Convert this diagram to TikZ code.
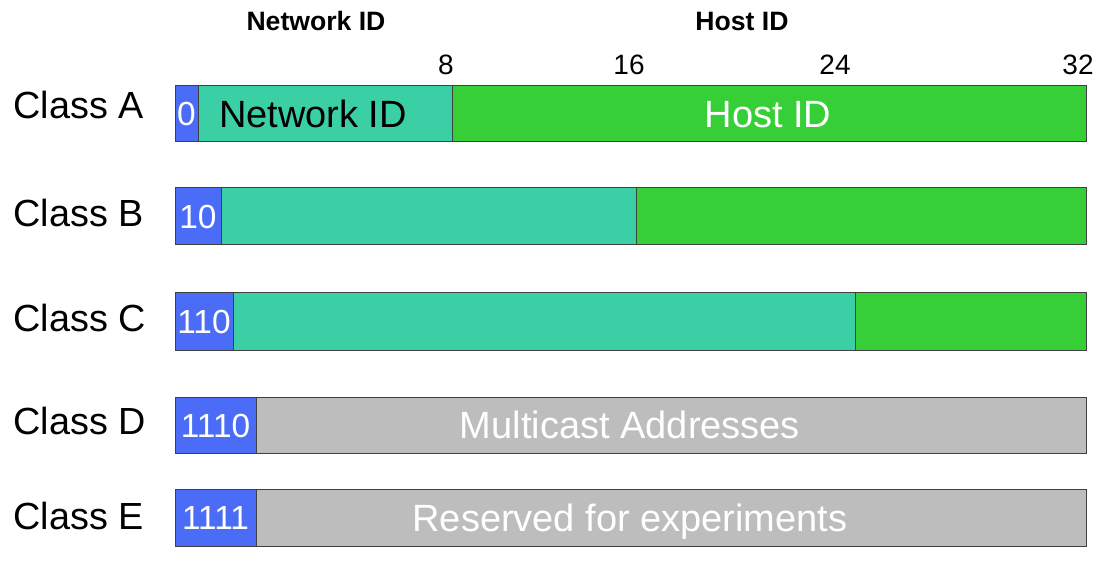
\documentclass[tikz,border=0pt]{standalone}
\usepackage{fontspec}
\setmainfont{Liberation Sans}
\definecolor{prefblue}{HTML}{4A6CF7}
\definecolor{netteal}{HTML}{3ACFA5}
\definecolor{hostgreen}{HTML}{37CF37}
\definecolor{resgray}{HTML}{BDBDBD}

\begin{document}
\begin{tikzpicture}[x=0.5pt, y=0.5pt,
  field/.style={draw=black!75, line width=0.5pt},
  lbl/.style={inner sep=0pt, text depth=0pt},
  classname/.style={lbl, anchor=west, text height=13.6pt, font=\fontsize{18.9}{21}\selectfont},
  headtxt/.style={lbl, text height=9.6pt, font=\fontsize{13.3}{15}\selectfont\bfseries},
  ticknum/.style={lbl, text height=10.1pt, font=\fontsize{14}{16}\selectfont},
  prefbits/.style={lbl, text=white, text height=12pt, font=\fontsize{16.7}{18}\selectfont},
  inside/.style={lbl, text height=13.7pt, font=\fontsize{19}{21}\selectfont}]
\useasboundingbox (0,0) rectangle (1103,563);

% class A, B, C
\foreach \top/\bot/\a/\b in {477/421/198/452, 375/318/221/636, 270/213/233/855}{
  \draw[field, fill=prefblue] (175,\bot) rectangle (\a,\top);
  \draw[field, fill=netteal] (\a,\bot) rectangle (\b,\top);
  \draw[field, fill=hostgreen] (\b,\bot) rectangle (1086,\top);
}
% class D, E
\foreach \top/\bot in {166/110, 74/17}{
  \draw[field, fill=prefblue] (175,\bot) rectangle (256,\top);
  \draw[field, fill=resgray] (256,\bot) rectangle (1086,\top);
}

\node[headtxt] (hnet) at (316,542) {Network ID};
\node[headtxt] (hhost) at (742,542) {Host ID};

\node[ticknum] (t8) at (446,499) {8};
\node[ticknum] (t16) at (629,499) {16};
\node[ticknum] (t24) at (835,499) {24};
\node[ticknum] (t32) at (1078,499) {32};

\node[classname] (ca) at (13,458) {Class A};
\node[classname] (cb) at (13,350) {Class B};
\node[classname] (cc) at (13,245) {Class C};
\node[classname] (cd) at (13,142) {Class D};
\node[classname] (ce) at (13,47) {Class E};

\node[prefbits] (pa) at (186.5,449) {0};
\node[prefbits] (pb) at (198,346.5) {10};
\node[prefbits] (pc) at (204,241.5) {110};
\node[prefbits] (pd) at (215.5,138) {1110};
\node[prefbits] (pe) at (215.5,45.5) {1111};

\node[inside] (netid) at (313,449) {Network ID};
\node[inside, text=white] (hostid) at (768,449) {Host ID};
\node[inside, text=white] (multi) at (630,138) {Multicast Addresses};
\node[inside, text=white] (resv) at (630,45.5) {Reserved for experiments};
\end{tikzpicture}
\end{document}
